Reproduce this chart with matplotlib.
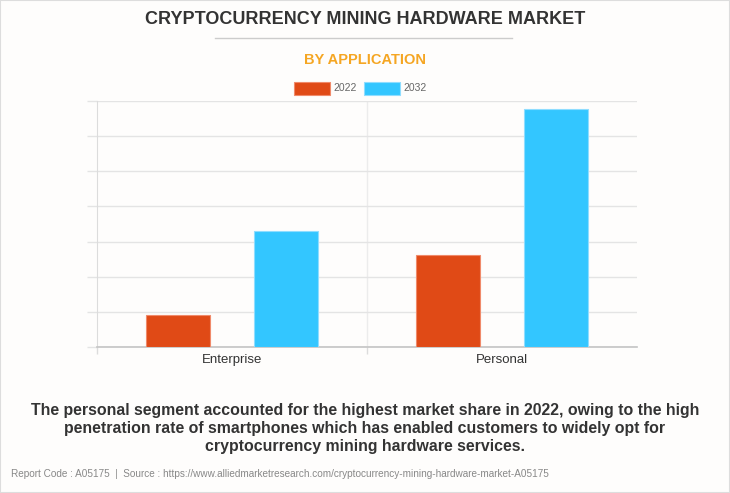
import numpy as np
import matplotlib.pyplot as plt
from matplotlib.patches import Rectangle
from matplotlib.lines import Line2D

# Data (relative units, no axis labels shown)
categories = ["Enterprise", "Personal"]
years = ["2022", "2032"]
values_2022 = [0.90, 2.61]
values_2032 = [3.29, 6.77]

colors = ["#E04A16", "#33C6FF"]
edges = ["#F08A6A", "#8FDDFF"]

plt.rcParams["font.family"] = ["Liberation Sans", "DejaVu Sans"]

W, H = 730, 493
fig = plt.figure(figsize=(W / 100, H / 100), dpi=100)
fig.patch.set_facecolor("#FEFDFC")

ax = fig.add_axes([97 / W, 1 - 346.7 / H, 540 / W, 245.4 / H])
ax.set_facecolor("#FEFDFC")

x = np.arange(len(categories))
width = 0.24
offset = 0.2
ax.bar(x - offset, values_2022, width, color=colors[0], edgecolor=edges[0],
       linewidth=0.8, zorder=3)
ax.bar(x + offset, values_2032, width, color=colors[1], edgecolor=edges[1],
       linewidth=0.8, zorder=3)

ax.set_xlim(-0.5, 1.5)
ax.set_ylim(0, 7)
ax.set_yticks(range(0, 8))
ax.set_yticklabels([])
ax.yaxis.grid(True, color="#e4e4e4", linewidth=1, zorder=0)
ax.tick_params(axis="y", length=7, color="#e4e4e4", width=1)

ax.set_xticks(x)
ax.set_xticklabels(categories, fontsize=9.5, color="#333333")
ax.tick_params(axis="x", length=0, pad=5)
ax.set_xticks([-0.5, 0.5], minor=True)
ax.tick_params(axis="x", which="minor", length=5, color="#dcdcdc", width=1)
ax.axvline(0.5, color="#ececec", linewidth=1, zorder=1)

for s in ["top", "right"]:
    ax.spines[s].set_visible(False)
ax.spines["left"].set_color("#dcdcdc")
ax.spines["bottom"].set_color("#c4c4c4")
ax.spines["bottom"].set_linewidth(1.2)

# Titles
fig.text(0.5, 1 - 20 / H, "CRYPTOCURRENCY MINING HARDWARE MARKET", ha="center",
         va="center", fontsize=13, fontweight="bold", color="#333333")
fig.add_artist(Line2D([215 / W, 512 / W], [1 - 38 / H, 1 - 38 / H],
                      color="#cccccc", linewidth=1))
fig.text(0.5, 1 - 60 / H, "BY APPLICATION", ha="center", va="center",
         fontsize=10.5, fontweight="bold", color="#F5A623")

# Legend
for i, (yr, c, e) in enumerate(zip(years, colors, edges)):
    x0 = (293.7 + i * 70) / W
    fig.add_artist(Rectangle((x0, 1 - 94.5 / H), 36 / W, 12.5 / H,
                             facecolor=c, edgecolor=e, linewidth=0.8,
                             transform=fig.transFigure))
    fig.text(x0 + 40 / W, 1 - 88 / H, yr, ha="left", va="center",
             fontsize=7.5, color="#666666")

# Description
desc = ("The personal segment accounted for the highest market share in 2022, owing to the high\n"
        "penetration rate of smartphones which has enabled customers to widely opt for\n"
        "cryptocurrency mining hardware services.")
fig.text(0.5, 1 - 428 / H, desc, ha="center", va="center", fontsize=11.4,
         fontweight="bold", color="#333333", linespacing=1.25)

fig.text(11 / W, 1 - 474 / H,
         "Report Code : A05175  |  Source : https://www.alliedmarketresearch.com/cryptocurrency-mining-hardware-market-A05175",
         ha="left", va="center", fontsize=7.2, color="#888888")

fig.add_artist(Rectangle((0, 0), 1, 1, fill=False, edgecolor="#dddddd",
                         linewidth=1.5, transform=fig.transFigure))

fig.savefig("out.png", dpi=100, facecolor=fig.get_facecolor())
